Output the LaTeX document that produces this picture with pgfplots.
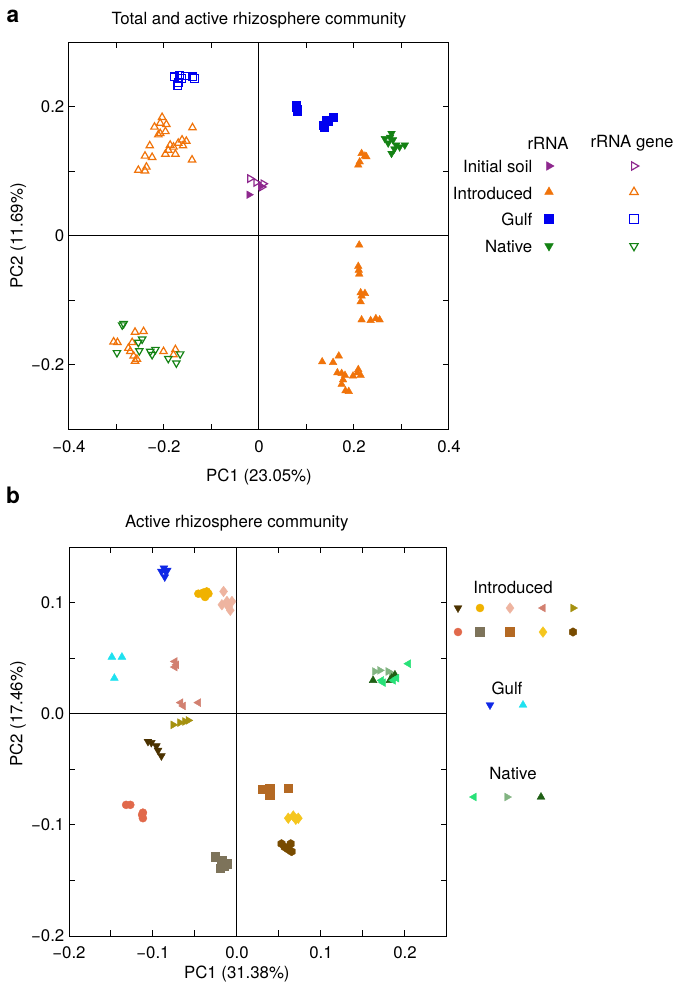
\documentclass[border=0pt]{standalone}
\usepackage{fontspec}
\setmainfont{TeX Gyre Heros}
\usepackage{pgfplots}
\pgfplotsset{compat=1.18}
\usetikzlibrary{plotmarks}

\definecolor{cInit}{RGB}{142,40,142}
\definecolor{cIntro}{RGB}{240,115,10}
\definecolor{cGulf}{RGB}{0,0,240}
\definecolor{cNat}{RGB}{20,130,20}
\definecolor{bA}{RGB}{75,50,0}
\definecolor{bB}{RGB}{240,178,0}
\definecolor{bC}{RGB}{238,180,160}
\definecolor{bD}{RGB}{210,128,112}
\definecolor{bE}{RGB}{165,145,15}
\definecolor{bF}{RGB}{225,105,75}
\definecolor{bG}{RGB}{125,115,90}
\definecolor{bH}{RGB}{180,105,35}
\definecolor{bI}{RGB}{245,198,30}
\definecolor{bJ}{RGB}{120,75,0}
\definecolor{gA}{RGB}{15,40,230}
\definecolor{gB}{RGB}{30,225,240}
\definecolor{nA}{RGB}{40,225,120}
\definecolor{nB}{RGB}{130,180,130}
\definecolor{nC}{RGB}{30,95,20}

\pgfdeclareplotmark{hexagon*}{%
  \pgfpathmoveto{\pgfqpointpolar{30}{\pgfplotmarksize}}%
  \pgfpathlineto{\pgfqpointpolar{90}{\pgfplotmarksize}}%
  \pgfpathlineto{\pgfqpointpolar{150}{\pgfplotmarksize}}%
  \pgfpathlineto{\pgfqpointpolar{210}{\pgfplotmarksize}}%
  \pgfpathlineto{\pgfqpointpolar{270}{\pgfplotmarksize}}%
  \pgfpathlineto{\pgfqpointpolar{330}{\pgfplotmarksize}}%
  \pgfpathclose
  \pgfusepathqfillstroke
}

\pgfplotsset{
  pcaaxis/.style={
    scale only axis, anchor=south west,
    axis line style={black, line width=0.75pt},
    every tick/.style={black, line width=0.75pt},
    major tick length=4.3pt,
    tick align=inside,
    xticklabel style={yshift=-4.5pt},
    clip=false,
  },
  fA/.style={only marks, mark=triangle*, mark size=3.3pt, color=#1, fill=#1, mark options={line width=0.3pt}},
  oA/.style={only marks, mark=triangle, mark size=3.2pt, color=#1, mark options={line width=0.9pt}},
  fD/.style={only marks, mark=triangle*, mark size=3.3pt, color=#1, fill=#1, mark options={rotate=180,line width=0.3pt}},
  oD/.style={only marks, mark=triangle, mark size=3.2pt, color=#1, mark options={rotate=180,line width=0.9pt}},
  fR/.style={only marks, mark=triangle*, mark size=3.3pt, color=#1, fill=#1, mark options={rotate=-90,line width=0.3pt}},
  oR/.style={only marks, mark=triangle, mark size=3.2pt, color=#1, mark options={rotate=-90,line width=0.9pt}},
  fS/.style={only marks, mark=square*, mark size=2.9pt, color=#1, fill=#1, mark options={line width=0.3pt}},
  oS/.style={only marks, mark=square, mark size=2.8pt, color=#1, mark options={line width=0.9pt}},
  fL/.style={only marks, mark=triangle*, mark size=3.4pt, color=#1, fill=#1, mark options={rotate=90,line width=0.3pt}},
  fC/.style={only marks, mark=*, mark size=3.0pt, color=#1, fill=#1, mark options={line width=0.3pt}},
  fDi/.style={only marks, mark=diamond*, mark size=4.0pt, color=#1, fill=#1, mark options={line width=0.3pt}},
  fH/.style={only marks, mark=hexagon*, mark size=3.2pt, color=#1, fill=#1, mark options={line width=0.3pt}},
  fU/.style={only marks, mark=triangle*, mark size=3.4pt, color=#1, fill=#1, mark options={line width=0.3pt}},
  fDb/.style={only marks, mark=triangle*, mark size=3.4pt, color=#1, fill=#1, mark options={rotate=180,line width=0.3pt}},
  fRb/.style={only marks, mark=triangle*, mark size=3.4pt, color=#1, fill=#1, mark options={rotate=-90,line width=0.3pt}},
  fSb/.style={only marks, mark=square*, mark size=3.3pt, color=#1, fill=#1, mark options={line width=0.3pt}},
}

\begin{document}
\begin{tikzpicture}[font=\fontsize{12.6}{15}\selectfont]
\path[use as bounding box] (0,0) rectangle (506.25pt,742.5pt);

% ---------------- Panel a ----------------
\begin{axis}[pcaaxis,
  at={(51.75pt,420.375pt)}, width=285pt, height=290.25pt,
  xmin=-0.4, xmax=0.4, ymin=-0.3, ymax=0.3,
  xtick={-0.4,-0.3,-0.2,-0.1,0,0.1,0.2,0.3,0.4},
  xticklabels={−0.4,,−0.2,,0,,0.2,,0.4},
  ytick={-0.2,-0.1,0,0.1,0.2},
  yticklabels={−0.2,,0,,0.2},
  title={Total and active rhizosphere community},
  title style={at={(axis description cs:0.5,1.058)}, anchor=center, yshift=-6pt},
  xlabel={PC1 (23.05\%)},
  xlabel style={at={(axis description cs:0.5,-0.1227)}, anchor=center},
  ylabel={PC2 (11.69\%)},
  ylabel style={at={(axis description cs:-0.134,0.5)}, anchor=center},
]
\addplot[black, line width=0.75pt] coordinates {(0,-0.3) (0,0.3)};
\addplot[black, line width=0.75pt] coordinates {(-0.4,0) (0.4,0)};
% Introduced rRNA gene (open)
\addplot[oA=cIntro] coordinates {
(-0.204,0.184) (-0.208,0.175) (-0.195,0.173) (-0.220,0.169) (-0.208,0.159)
(-0.212,0.157) (-0.197,0.162) (-0.140,0.168) (-0.187,0.141) (-0.170,0.144)
(-0.162,0.149) (-0.153,0.147) (-0.160,0.140) (-0.230,0.140) (-0.240,0.124)
(-0.225,0.122) (-0.197,0.127) (-0.191,0.133) (-0.176,0.127) (-0.254,0.102)
(-0.237,0.107) (-0.240,0.101) (-0.141,0.118) (-0.180,0.138)
(-0.306,-0.164) (-0.298,-0.165) (-0.261,-0.149) (-0.243,-0.148) (-0.267,-0.165)
(-0.275,-0.174) (-0.271,-0.179) (-0.264,-0.186) (-0.257,-0.191) (-0.261,-0.194)
(-0.201,-0.179) (-0.176,-0.176) (-0.180,-0.184)
};
% Native rRNA gene (open)
\addplot[oD=cNat] coordinates {
(-0.285,-0.136) (-0.288,-0.138) (-0.299,-0.181) (-0.254,-0.165) (-0.246,-0.160)
(-0.252,-0.178) (-0.229,-0.179) (-0.225,-0.184) (-0.218,-0.176) (-0.191,-0.190)
(-0.174,-0.197) (-0.166,-0.183)
};
% Gulf rRNA gene (open)
\addplot[oS=cGulf] coordinates {
(-0.178,0.247) (-0.167,0.249) (-0.163,0.244) (-0.170,0.238) (-0.171,0.233)
(-0.140,0.247) (-0.136,0.244) (-0.155,0.248)
};
% Initial soil rRNA gene (open)
\addplot[oR=cInit] coordinates {
(-0.019,0.089) (-0.006,0.083) (0.009,0.081) (0.006,0.076)
};
% Initial soil rRNA
\addplot[fR=cInit] coordinates {(-0.021,0.064) (0.003,0.077)};
% Gulf rRNA
\addplot[fS=cGulf] coordinates {
(0.079,0.200) (0.081,0.197) (0.078,0.203) (0.080,0.194) (0.135,0.172)
(0.138,0.168) (0.142,0.180) (0.146,0.177) (0.156,0.184)
};
% Native rRNA
\addplot[fD=cNat] coordinates {
(0.265,0.151) (0.279,0.159) (0.282,0.149) (0.289,0.141) (0.279,0.128)
(0.307,0.141) (0.296,0.138) (0.272,0.144) (0.285,0.135) (0.276,0.153)
};
% Introduced rRNA
\addplot[fA=cIntro] coordinates {
(0.216,0.128) (0.223,0.124) (0.212,0.115) (0.209,0.110) (0.226,0.123)
(0.211,-0.014) (0.209,-0.047) (0.210,-0.053) (0.211,-0.059) (0.214,-0.088)
(0.223,-0.089) (0.216,-0.093) (0.214,-0.102) (0.216,-0.130) (0.235,-0.131)
(0.246,-0.128) (0.254,-0.130) (0.168,-0.186) (0.133,-0.195) (0.156,-0.196)
(0.165,-0.212) (0.174,-0.213) (0.181,-0.216) (0.177,-0.223) (0.174,-0.230)
(0.182,-0.240) (0.189,-0.241) (0.198,-0.217) (0.209,-0.207) (0.207,-0.212)
(0.214,-0.216)
};
\end{axis}

% ---------------- Panel b ----------------
\begin{axis}[pcaaxis,
  at={(51.75pt,40.5pt)}, width=283.5pt, height=291.75pt,
  xmin=-0.2, xmax=0.25, ymin=-0.2, ymax=0.15,
  xtick={-0.2,-0.15,-0.1,-0.05,0,0.05,0.1,0.15,0.2},
  xticklabels={−0.2,,−0.1,,0.0,,0.1,,0.2},
  ytick={-0.2,-0.15,-0.1,-0.05,0,0.05,0.1},
  yticklabels={−0.2,,−0.1,,0.0,,0.1},
  title={Active rhizosphere community},
  title style={at={(axis description cs:0.444,1.0617)}, anchor=center, yshift=-6pt},
  xlabel={PC1 (31.38\%)},
  xlabel style={at={(axis description cs:0.444,-0.0977)}, anchor=center},
  ylabel={PC2 (17.46\%)},
  ylabel style={at={(axis description cs:-0.135,0.571)}, anchor=center},
]
\addplot[black, line width=0.75pt] coordinates {(0,-0.2) (0,0.15)};
\addplot[black, line width=0.75pt] coordinates {(-0.2,0) (0.25,0)};
\addplot[fDb=gA] coordinates {(-0.087,0.131) (-0.085,0.128) (-0.086,0.123) (-0.090,0.128) (-0.083,0.129)};
\addplot[fC=bB] coordinates {(-0.046,0.108) (-0.040,0.109) (-0.036,0.110) (-0.034,0.108) (-0.038,0.105) (-0.042,0.108)};
\addplot[fDi=bC] coordinates {(-0.016,0.110) (-0.018,0.098) (-0.012,0.101) (-0.006,0.101) (-0.008,0.093) (-0.010,0.096)};
\addplot[fU=gB] coordinates {(-0.149,0.051) (-0.137,0.051) (-0.146,0.032)};
\addplot[fL=bD] coordinates {(-0.074,0.047) (-0.072,0.044) (-0.074,0.042) (-0.067,0.010) (-0.064,0.007) (-0.046,0.010)};
\addplot[fRb=bE] coordinates {(-0.076,-0.010) (-0.068,-0.008) (-0.062,-0.007) (-0.058,-0.006)};
\addplot[fDb=bA] coordinates {(-0.106,-0.025) (-0.102,-0.026) (-0.096,-0.029) (-0.094,-0.033) (-0.090,-0.038)};
\addplot[fC=bF] coordinates {(-0.132,-0.082) (-0.127,-0.082) (-0.113,-0.091) (-0.112,-0.089) (-0.112,-0.094)};
\addplot[fSb=bG] coordinates {(-0.026,-0.129) (-0.018,-0.132) (-0.012,-0.135) (-0.020,-0.139) (-0.016,-0.137)};
\addplot[fSb=bH] coordinates {(0.031,-0.068) (0.039,-0.067) (0.039,-0.073) (0.061,-0.067)};
\addplot[fDi=bI] coordinates {(0.061,-0.094) (0.067,-0.092) (0.073,-0.094) (0.070,-0.095)};
\addplot[fH=bJ] coordinates {(0.053,-0.117) (0.057,-0.120) (0.064,-0.117) (0.065,-0.124) (0.061,-0.122)};
\addplot[fRb=nB] coordinates {(0.164,0.038) (0.170,0.039) (0.180,0.038) (0.184,0.036)};
\addplot[fU=nC] coordinates {(0.162,0.030) (0.182,0.030) (0.188,0.035) (0.184,0.032)};
\addplot[fL=nA] coordinates {(0.204,0.045) (0.172,0.030) (0.174,0.028) (0.186,0.030) (0.190,0.032)};
\end{axis}

% ---------------- Legends and panel letters (overlay axis in pixel units) ----------------
\begin{axis}[at={(0pt,0pt)}, anchor=south west, scale only axis,
  width=506.25pt, height=742.5pt, xmin=0, xmax=675, ymin=0, ymax=990,
  y dir=reverse, hide axis, clip=false]
\node[font=\fontsize{17}{19}\selectfont\bfseries] at (axis cs:13,16) {a};
\node[font=\fontsize{17}{19}\selectfont\bfseries] at (axis cs:13,495) {b};
% legend a
\node at (axis cs:548,143) {rRNA};
\node at (axis cs:632,143) {rRNA gene};
\node[anchor=east] at (axis cs:537,166) {Initial soil};
\node[anchor=east] at (axis cs:537,193) {Introduced};
\node[anchor=east] at (axis cs:537,219) {Gulf};
\node[anchor=east] at (axis cs:537,246) {Native};
\addplot[fR=cInit, mark size=3.8pt] coordinates {(549,166)};
\addplot[oR=cInit, mark size=3.6pt] coordinates {(634,166)};
\addplot[fA=cIntro, mark size=3.8pt] coordinates {(549,192)};
\addplot[oA=cIntro, mark size=3.6pt] coordinates {(634,192)};
\addplot[fS=cGulf, mark size=3.3pt] coordinates {(549,219)};
\addplot[oS=cGulf, mark size=3.1pt] coordinates {(634,219)};
\addplot[fD=cNat, mark size=3.8pt] coordinates {(549,246)};
\addplot[oD=cNat, mark size=3.6pt] coordinates {(634,246)};
% legend b
\node at (axis cs:513,587) {Introduced};
\addplot[fDb=bA] coordinates {(458,608)};
\addplot[fC=bB] coordinates {(480,608)};
\addplot[fDi=bC] coordinates {(510,608)};
\addplot[fL=bD] coordinates {(543,608)};
\addplot[fRb=bE] coordinates {(573,608)};
\addplot[fC=bF] coordinates {(458,632)};
\addplot[fSb=bG] coordinates {(480,632)};
\addplot[fSb=bH] coordinates {(510,632)};
\addplot[fDi=bI] coordinates {(543,632)};
\addplot[fH=bJ] coordinates {(573,632)};
\node at (axis cs:507,688) {Gulf};
\addplot[fDb=gA] coordinates {(490,705)};
\addplot[fU=gB] coordinates {(523,705)};
\node at (axis cs:513,773) {Native};
\addplot[fL=nA] coordinates {(474,797)};
\addplot[fRb=nB] coordinates {(507,797)};
\addplot[fU=nC] coordinates {(541,797)};
\end{axis}
\end{tikzpicture}
\end{document}
